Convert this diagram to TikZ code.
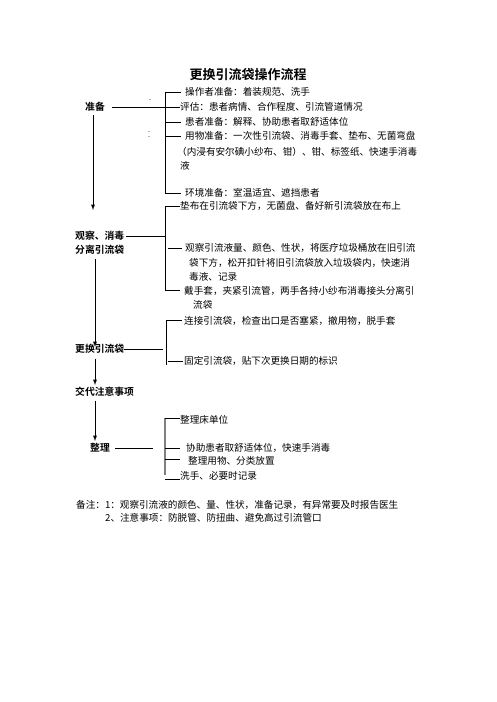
\documentclass[tikz,border=0pt]{standalone}
\usepackage{fontspec}
\setmainfont{Noto Sans CJK SC}[BoldFont={Noto Sans CJK SC Bold}]
\begin{document}
\begin{tikzpicture}[x=1pt,y=-1pt,
    lbl/.style={font=\fontsize{9.8}{11}\selectfont\bfseries, inner sep=0pt},
    item/.style={font=\fontsize{9.6}{11}\selectfont, anchor=west, inner sep=0pt},
    brk/.style={line width=0.8pt},
    arr/.style={line width=0.9pt, -latex}]
    \useasboundingbox (0,0) rectangle (496,702);
    \node(title) at (248,75) [font=\fontsize{13}{15}\selectfont\bfseries] {更换引流袋操作流程};
    % left column
    \node(zb)  at ( 95,107) [lbl]               {准备};
    \node(gc1) at ( 75,236) [lbl, anchor=west]  {观察、消毒};
    \node(gc2) at ( 75,250) [lbl, anchor=west]  {分离引流袋};
    \node(gh)  at ( 75,349) [lbl, anchor=west]  {更换引流袋};
    \node(jd)  at ( 75,392) [lbl, anchor=west]  {交代注意事项};
    \node(zl)  at (100,448) [lbl]               {整理};
    \coordinate(e1) at (93,210);
    \coordinate(e2) at (95,347);
    \coordinate(e3) at (95,385);
    \coordinate(e4) at (95,441);
    \draw[arr] ([xshift=-2pt, yshift=-3pt]zb.south) -- (e1);
    \draw[arr] ([yshift=-4pt]gc2.south -| e2) -- (e2);
    \draw[arr] ([yshift=-5pt]gh.south -| e3) -- (e3);
    \draw[arr] ([yshift=-4pt]jd.south -| e4) -- (e4);
    % group 1
    \coordinate(b1t) at (165, 92);
    \coordinate(b1b) at (165,193);
    \node(a1)  at (185, 92) [item] {操作者准备：着装规范、洗手};
    \node(a2)  at (180,107) [item] {评估：患者病情、合作程度、引流管道情况};
    \node(a3)  at (185,122) [item] {患者准备：解释、协助患者取舒适体位};
    \node(a4)  at (185,136) [item] {用物准备：一次性引流袋、消毒手套、垫布、无菌弯盘};
    \node(a4b) at (177,152) [item] {（内浸有安尔碘小纱布、钳）、钳、标签纸、快速手消毒};
    \node(a4c) at (180,166) [item] {液};
    \node(a5)  at (185,193) [item] {环境准备：室温适宜、遮挡患者};
    \draw[brk] (b1t) -- (b1b);
    \draw[brk] ([xshift=7pt]zb.east) -- (zb.east -| b1t);
    \draw[brk] (b1t) -- ([xshift=-4pt]a1.west);
    \draw[brk] (a2.west -| b1t) -- (a2.west);
    \draw[brk] (a3.west -| b1t) -- ([xshift=-4pt]a3.west);
    \draw[brk] (a4.west -| b1t) -- ([xshift=-4pt]a4.west);
    \draw[brk] (b1b) -- ([xshift=-4pt]a5.west);
    \fill[gray!60] (149,98.5) rectangle (151,99.5);
    \fill[gray!60] (148,130.5) rectangle (150,131.5);
    \fill[gray!60] (148,135.5) rectangle (150,136.5);
    % group 2
    \coordinate(b2t) at (165,206);
    \coordinate(b2b) at (165,290);
    \node(c1)  at (180,206) [item] {垫布在引流袋下方，无菌盘、备好新引流袋放在布上};
    \node(c2)  at (185,248) [item] {观察引流液量、颜色、性状，将医疗垃圾桶放在旧引流};
    \node(c2b) at (189,263) [item] {袋下方，松开扣针将旧引流袋放入垃圾袋内，快速消};
    \node(c2c) at (189,277) [item] {毒液、记录};
    \node(c3)  at (184,291) [item] {戴手套，夹紧引流管，两手各持小纱布消毒接头分离引};
    \node(c3b) at (193,305) [item] {流袋};
    \draw[brk] (b2t) -- (b2b);
    \draw[brk] ([xshift=2pt]gc1.east) -- (gc1.east -| b2t);
    \draw[brk] (b2t) -- (c1.west);
    \draw[brk] ([xshift=3pt]c2.west -| b2t) -- ([xshift=-3pt]c2.west);
    \draw[brk] (b2b) -- ([xshift=-4pt]c3.west |- b2b);
    % group 3
    \coordinate(b3t) at (166,320);
    \coordinate(b3b) at (166,365);
    \node(d1)  at (184,321) [item] {连接引流袋，检查出口是否塞紧，撤用物，脱手套};
    \node(d2)  at (184,361) [item] {固定引流袋，贴下次更换日期的标识};
    \draw[brk] (b3t) -- (b3b);
    \draw[brk] (gh.east) -- ([xshift=-3pt]gh.east -| b3t);
    \draw[brk] (b3t) -- ([xshift=-2pt]d1.west |- b3t);
    \draw[brk] ([xshift=2pt]d2.west -| b3t) -- ([xshift=-1pt]d2.west);
    % group 4
    \coordinate(b4t) at (165,418);
    \coordinate(b4b) at (165,475);
    \node(f1)  at (180,420) [item] {整理床单位};
    \node(f2)  at (186,448) [item] {协助患者取舒适体位，快速手消毒};
    \node(f3)  at (188,461) [item] {整理用物、分类放置};
    \node(f4)  at (180,476) [item] {洗手、必要时记录};
    \draw[line width=1.6pt, gray] (b4t) -- (b4b);
    \draw[brk] ([xshift=5pt]zl.east) -- ([xshift=-12pt]zl.east -| b4t);
    \draw[brk] (b4t) -- (f1.west |- b4t);
    \draw[brk] (f2.west -| b4t) -- ([xshift=-6pt]f2.west);
    \draw[brk] ([yshift=2pt]f3.west -| b4t) -- ([xshift=-8pt, yshift=2pt]f3.west);
    \draw[brk] ([yshift=-3pt]f4.west -| b4t) -- ([yshift=-3pt]f4.west);
    % notes
    \node(n1)  at ( 76,505) [item] {备注：1：观察引流液的颜色、量、性状，准备记录，有异常要及时报告医生};
    \node(n2)  at (105,518) [item] {2、注意事项：防脱管、防扭曲、避免高过引流管口};
\end{tikzpicture}
\end{document}
